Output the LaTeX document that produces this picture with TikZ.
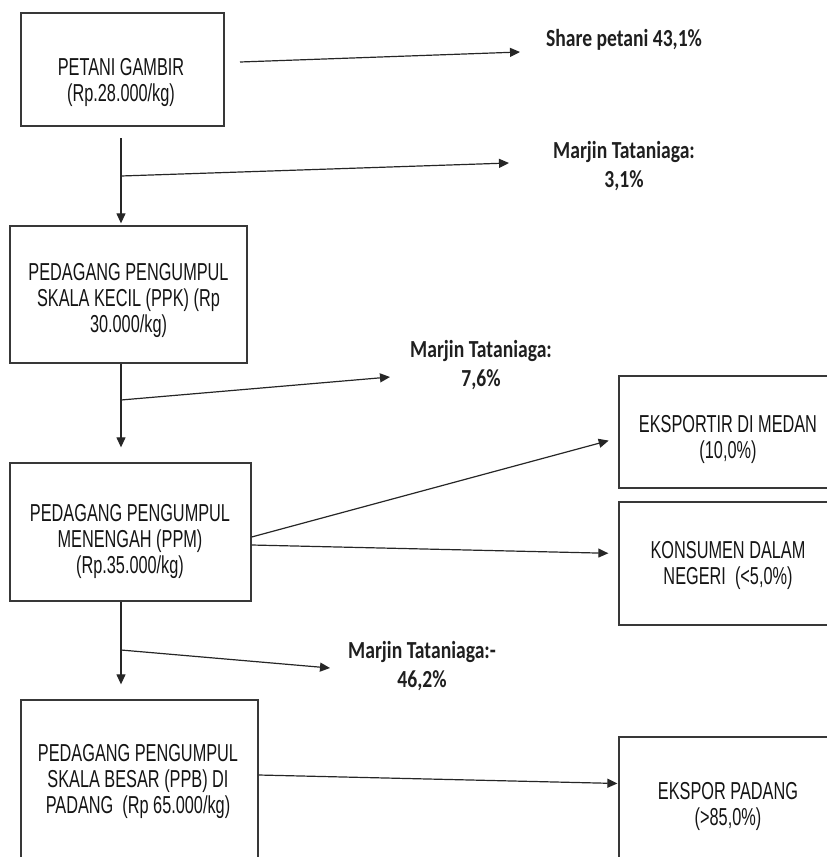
\documentclass[tikz,border=0pt]{standalone}
\usepackage{fontspec}
\newfontfamily\boxfont[FakeStretch=0.665]{Liberation Sans}
\newfontfamily\lblfont[FakeStretch=0.8]{Carlito}
\usetikzlibrary{arrows.meta}
\begin{document}
\begin{tikzpicture}[x=1pt,y=-1pt,
  boxn/.style={draw=black!78, line width=1.3pt, inner sep=0pt},
  txt/.style={font=\boxfont\fontsize{24.5}{26}\selectfont, align=center, inner sep=0pt, text=black!92},
  lbl/.style={font=\lblfont\bfseries\fontsize{24.5}{29}\selectfont, align=center, inner sep=0pt, text=black!88},
  arr/.style={-{Triangle[length=10pt,width=9pt]}, line width=1.2pt, draw=black!85}]
\useasboundingbox (0,0) rectangle (827,857);
\clip (0,0) rectangle (827,857);

% boxes
\node[boxn, minimum width=203pt, minimum height=113pt] (b1) at (122.5,69.5) {};
\node[boxn, minimum width=237pt, minimum height=137pt] (b2) at (128.5,294.5) {};
\node[boxn, minimum width=241pt, minimum height=138pt] (b3) at (130.5,532) {};
\node[boxn, minimum width=237pt, minimum height=180pt] (b4) at (139.5,790) {};
\node[boxn, minimum width=218pt, minimum height=112pt] (b5) at (728,432) {};
\node[boxn, minimum width=218pt, minimum height=123pt] (b6) at (728,563.5) {};
\node[boxn, minimum width=218pt, minimum height=163pt] (b7) at (728,818.5) {};

% box texts
\node[txt] (t1) at (121,82) {PETANI GAMBIR\\(Rp.28.000/kg)};
\node[txt] (t2) at (128.5,300) {PEDAGANG PENGUMPUL\\SKALA KECIL (PPK) (Rp\\30.000/kg)};
\node[txt] (t3) at (130,541) {PEDAGANG PENGUMPUL\\MENENGAH (PPM)\\(Rp.35.000/kg)};
\node[txt] (t4) at (138,781) {PEDAGANG PENGUMPUL\\SKALA BESAR (PPB) DI\\PADANG\ \ (Rp 65.000/kg)};
\node[txt] (t5) at (728,439) {EKSPORTIR DI MEDAN\\(10,0\%)};
\node[txt] (t6) at (728,565) {KONSUMEN DALAM\\NEGERI\ \ (<5,0\%)};
\node[txt] (t7) at (728,806) {EKSPOR PADANG\\(>85,0\%)};

% labels
\node[lbl] (l1) at (624,39.5) {Share petani 43,1\%};
\node[lbl] (l2) at (624,166) {Marjin Tataniaga:\\3,1\%};
\node[lbl] (l3) at (481,365.5) {Marjin Tataniaga:\\7,6\%};
\node[lbl] (l4) at (422,666) {Marjin Tataniaga:-\\46,2\%};

% coordinates
\coordinate (a1s) at (240,62);
\coordinate (a1e) at (520,52);
\coordinate (v1s) at (121,138);
\coordinate (j1) at (121,176);
\coordinate (m1) at (509,163);
\coordinate (j2) at (121,400);
\coordinate (m2) at (390,377);
\coordinate (j3) at (121,650);
\coordinate (m3) at (330,668);

% connectors
\draw[arr] (a1s) -- (a1e);
\draw[arr, shorten >=2pt] (v1s) -- (v1s |- b2.north);
\draw[arr] (j1) -- (m1);
\draw[arr, shorten >=15pt] (v1s |- b2.south) -- (v1s |- b3.north);
\draw[arr] (j2) -- (m2);
\draw[arr, shorten >=15pt] (v1s |- b3.south) -- (v1s |- b4.north);
\draw[arr] (j3) -- (m3);
\draw[arr, shorten >=10pt] ([yshift=-5pt]b3.east) -- ([yshift=-6pt]b5.west);
\draw[arr, shorten >=10pt] ([yshift=-13pt]b3.east) -- ([yshift=10pt]b6.west);
\draw[arr, shorten >=1pt] ([yshift=15pt]b4.east) -- ([yshift=35pt]b7.west);
\end{tikzpicture}
\end{document}
